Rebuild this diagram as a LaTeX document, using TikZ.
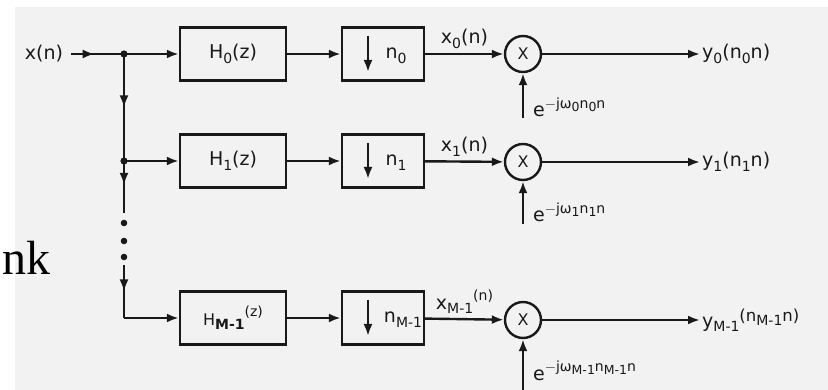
\documentclass[tikz,border=0pt]{standalone}
\usepackage{fontspec}
\setmainfont{DejaVu Sans}
\newfontfamily\serifbig{Liberation Serif}
\usetikzlibrary{arrows.meta,decorations.markings}

% sub- and superscript text for the labels
\newcommand{\dn}[1]{\raisebox{-0.45ex}{\fontsize{14}{14}\selectfont #1}}
\newcommand{\up}[1]{\raisebox{0.8ex}{\fontsize{14}{14}\selectfont #1}}
\newcommand{\upp}[1]{\raisebox{0.6ex}{\fontsize{16.5}{16.5}\selectfont #1}}
\newcommand{\dnn}[1]{\raisebox{-0.4ex}{\fontsize{12.5}{12.5}\selectfont #1}}

\begin{document}
\begin{tikzpicture}[>={Latex[length=12pt,width=9pt]}, x=1pt, y=-1pt,
  line width=2.4pt, draw=black!90, text=black!90,
  font=\fontsize{19}{19}\selectfont,
  blk/.style={draw, minimum height=53, inner sep=0pt},
  mul/.style={draw, circle, minimum size=36, inner sep=0pt, font=\fontsize{16}{16}\selectfont},
  lab/.style={inner sep=1pt},
  midarr/.style={postaction={decorate},
    decoration={markings, mark=at position #1 with {\arrow{>}}}}]
\useasboundingbox (0,0) rectangle (828,390);
% paper
\fill[white] (0,0) rectangle (828,390);
\fill[black!5] (15,7) rectangle (828,390);
% text of the slide behind
\node[anchor=base east, inner sep=0pt, font=\serifbig\fontsize{48}{48}\selectfont, text=black] (bank) at (52,275) {nk};

% input and branch points
\node[lab] (xin) at (44,54) {x(n)};
\coordinate (j0) at (124,54);
\coordinate (j1) at (124,161);
\coordinate (jd) at (124,213);
\coordinate (jr) at (124,265);
\coordinate (jM) at (124,318);

% filters
\node[blk, minimum width=106] (h0) at (233,54) {H\dn{0}(z)};
\node[blk, minimum width=106] (h1) at (233,161) {H\dn{1}(z)};
\node[blk, minimum width=106] (hM) at (233,318) {{\fontsize{16}{16}\selectfont H}\dn{\textbf{M-1}}\up{(z)}};

% decimators
\node[blk, minimum width=82] (d0) at (383,54) {};
\node[blk, minimum width=82] (d1) at (383,161) {};
\node[blk, minimum width=82] (dM) at (383,318) {};
\node[lab] (n0) at (396,56) {n\dn{0}};
\node[lab] (n1) at (396,163) {n\dn{1}};
\node[lab] (nM) at (403,320) {n\dn{M-1}};
\draw[->] ([shift={(-15,-18)}]d0.center) -- ++(0,36);
\draw[->] ([shift={(-15,-18)}]d1.center) -- ++(0,36);
\draw[->] ([shift={(-15,-18)}]dM.center) -- ++(0,36);

% modulators
\node[mul] (m0) at (523,54) {X};
\node[mul] (m1) at (523,162) {X};
\node[mul] (mM) at (523,320) {X};
\coordinate (e0) at (523,118);
\coordinate (e1) at (523,224);
\coordinate (eM) at (523,390);
\node[lab, anchor=base west] (w0) at (531,117) {e\up{$-$jω\dnn{0}n\dnn{0}n}};
\node[lab, anchor=base west] (w1) at (531,222) {e\up{$-$jω\dnn{1}n\dnn{1}n}};
\node[lab, anchor=base west] (wM) at (531,380) {e\up{$-$jω\dnn{M-1}n\dnn{M-1}n}};

% outputs
\node[lab, anchor=west] (y0) at (700,54) {y\dn{0}(n\dn{0}n)};
\node[lab, anchor=west] (y1) at (700,162) {y\dn{1}(n\dn{1}n)};
\node[lab, anchor=west] (yM) at (700,320) {y{\fontsize{16}{16}\selectfont\dn{M-1}}\upp{(n\dn{M-1}n)}};

% trunk with dots
\draw[midarr=0.5, shorten <=6pt] (xin) -- (j0);
\draw[midarr=0.5] (j0) -- (j1);
\draw[midarr=0.46] (j1) -- (jd);
\foreach \yy in {223,241,257} \fill[black!90] (124,\yy) circle (3.3);
\draw[midarr=0.5] (jr) -- (jM);
\fill[black!90] (j0) circle (3.6);
\fill[black!90] (j1) circle (3.6);

% branches
\draw[->] (j0) -- (h0);
\draw[->] (j1) -- (h1);
\draw[->] (jM) -- (hM);
\draw[->] (h0) -- (d0);
\draw[->] (h1) -- (d1);
\draw[->] (hM) -- (dM);
\draw[->] (d0) -- (m0) node[midway, above=3pt, lab] (x0) {x\dn{0}(n)};
\draw[->] (d1) -- (m1) node[midway, above=3pt, lab] (x1) {x\dn{1}(n)};
\draw[->] (dM) -- (mM) node[midway, above=3pt, lab] (xM) {x\dn{M-1}\up{(n)}};
\draw[->] (e0) -- (m0);
\draw[->] (e1) -- (m1);
\draw[->] (eM) -- (mM);
\draw[->] (m0) -- (y0);
\draw[->] (m1) -- (y1);
\draw[->] (mM) -- (yM);
\end{tikzpicture}
\end{document}
